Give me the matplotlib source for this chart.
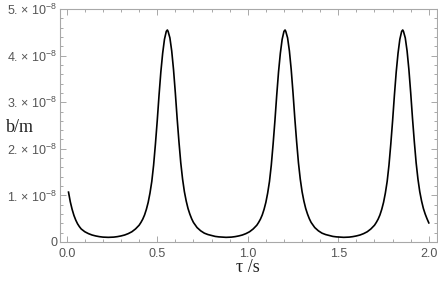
import matplotlib
matplotlib.use("Agg")
import matplotlib.pyplot as plt
from matplotlib.ticker import MultipleLocator, FuncFormatter

# values; b in units of 1e-8 m
tau_start = [0.01, 0.02, 0.03, 0.04, 0.05, 0.06, 0.07, 0.08, 0.10, 0.12, 0.14, 0.16, 0.18, 0.20]
b_start = [1.07, 0.86, 0.70, 0.57, 0.47, 0.39, 0.33, 0.28, 0.22, 0.18, 0.15, 0.13, 0.115, 0.105]

tau_p1 = [0.23, 0.26, 0.28, 0.30, 0.32, 0.34, 0.36, 0.38, 0.39, 0.40, 0.41, 0.42, 0.43, 0.44, 0.45,
          0.46, 0.47, 0.48, 0.49, 0.50, 0.51, 0.52, 0.53, 0.54, 0.55, 0.556, 0.56, 0.57, 0.58, 0.59,
          0.60, 0.61, 0.62, 0.63, 0.64, 0.65, 0.66, 0.67, 0.68, 0.69, 0.70, 0.72, 0.74, 0.76, 0.78,
          0.80, 0.82, 0.84]
b_p1 = [0.10, 0.105, 0.115, 0.13, 0.15, 0.18, 0.22, 0.28, 0.32, 0.36, 0.42, 0.49, 0.58, 0.70, 0.85,
        1.05, 1.30, 1.65, 2.10, 2.60, 3.15, 3.65, 4.05, 4.35, 4.52, 4.55, 4.52, 4.38, 4.10, 3.70,
        3.20, 2.65, 2.15, 1.70, 1.35, 1.08, 0.88, 0.72, 0.60, 0.50, 0.42, 0.31, 0.24, 0.19, 0.16,
        0.14, 0.12, 0.11]

tau_p2 = [0.88, 0.91, 0.93, 0.95, 0.97, 0.99, 1.01, 1.03, 1.04, 1.05, 1.06, 1.07, 1.08, 1.09, 1.10,
          1.11, 1.12, 1.13, 1.14, 1.15, 1.16, 1.17, 1.18, 1.19, 1.20, 1.206, 1.21, 1.22, 1.23, 1.24,
          1.25, 1.26, 1.27, 1.28, 1.29, 1.30, 1.31, 1.32, 1.33, 1.34, 1.35, 1.37, 1.39, 1.41, 1.43,
          1.45, 1.47, 1.49]
b_p2 = [0.10, 0.105, 0.115, 0.13, 0.15, 0.18, 0.22, 0.28, 0.32, 0.36, 0.42, 0.49, 0.58, 0.70, 0.85,
        1.05, 1.30, 1.65, 2.10, 2.60, 3.15, 3.65, 4.05, 4.35, 4.52, 4.55, 4.52, 4.38, 4.10, 3.70,
        3.20, 2.65, 2.15, 1.70, 1.35, 1.08, 0.88, 0.72, 0.60, 0.50, 0.42, 0.31, 0.24, 0.19, 0.16,
        0.14, 0.12, 0.11]

tau_p3 = [1.53, 1.56, 1.58, 1.60, 1.62, 1.64, 1.66, 1.68, 1.69, 1.70, 1.71, 1.72, 1.73, 1.74, 1.75,
          1.76, 1.77, 1.78, 1.79, 1.80, 1.81, 1.82, 1.83, 1.84, 1.85, 1.856, 1.86, 1.87, 1.88, 1.89,
          1.90, 1.91, 1.92, 1.93, 1.94, 1.95, 1.96, 1.97, 1.98, 1.99, 2.00]
b_p3 = [0.10, 0.105, 0.115, 0.13, 0.15, 0.18, 0.22, 0.28, 0.32, 0.36, 0.42, 0.49, 0.58, 0.70, 0.85,
        1.05, 1.30, 1.65, 2.10, 2.60, 3.15, 3.65, 4.05, 4.35, 4.52, 4.55, 4.52, 4.38, 4.10, 3.70,
        3.20, 2.65, 2.15, 1.70, 1.35, 1.08, 0.88, 0.72, 0.60, 0.50, 0.41]

y_tick_vals = [0, 1, 2, 3, 4, 5]
x_tick_vals = [0.0, 0.5, 1.0, 1.5, 2.0]

tau = tau_start + tau_p1 + tau_p2 + tau_p3
b = [v * 1e-8 for v in b_start + b_p1 + b_p2 + b_p3]

plt.rcParams['font.family'] = ['Liberation Sans', 'DejaVu Sans']
plt.rcParams['mathtext.default'] = 'regular'

fig = plt.figure(figsize=(4.39, 2.82), dpi=100)
ax = fig.add_axes([60 / 439, 40 / 282, 377.5 / 439, 233 / 282])

ax.plot(tau, b, color='black', lw=1.2, solid_joinstyle='round')

ax.set_xlim(-0.037, 2.048)
ax.set_ylim(0, 5e-8)

frame_col = '#a8a8a8'
label_col = '#555555'
for s in ax.spines.values():
    s.set_color(frame_col)
    s.set_linewidth(0.8)

ax.set_xticks(x_tick_vals)
ax.set_xticklabels([f"{v:.1f}" for v in x_tick_vals])
ax.xaxis.set_minor_locator(MultipleLocator(0.1))


def ylab(v, pos):
    n = round(v / 1e-8)
    if n == 0:
        return "0"
    return f"{n}. × 10$^{{-8}}$"


ax.set_yticks([v * 1e-8 for v in y_tick_vals])
ax.yaxis.set_major_formatter(FuncFormatter(ylab))
ax.yaxis.set_minor_locator(MultipleLocator(0.2e-8))

ax.tick_params(which='both', direction='in', top=True, right=True, color=frame_col, width=0.7,
               labelcolor=label_col)
ax.tick_params(which='major', length=4)
ax.tick_params(which='minor', length=2.2)
ax.tick_params(axis='x', pad=4, labelsize=9)
ax.tick_params(axis='y', pad=2, labelsize=9)

fig.text(248 / 439, 1 - 268 / 282, "τ /s", family='Liberation Serif', fontsize=13,
         color='#222222', ha='center', va='center')
fig.text(20 / 439, 1 - 128 / 282, "b/m", family='Liberation Serif', fontsize=13,
         color='#222222', ha='center', va='center')

fig.savefig("out.png", dpi=100)
